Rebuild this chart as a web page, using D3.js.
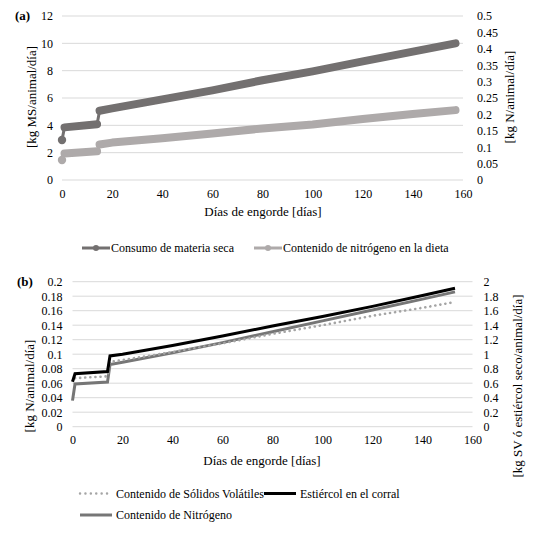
<!DOCTYPE html>
<html>
<head>
<meta charset="utf-8">
<script src="https://cdn.jsdelivr.net/npm/d3@7"></script>
<style>
  html, body { margin: 0; padding: 0; background: #fff; }
  svg { display: block; }
  svg text { font-family: "Liberation Serif", "Times New Roman", Tinos, "DejaVu Serif", serif !important; }
</style>
</head>
<body>
<svg id="chart" width="542" height="536"></svg>
<script>
// ---------- Data: panel (a) ----------
const daysA = [0, 1, 14, 15, 20, 40, 60, 80, 100, 120, 140, 157];
const consumoMS = [2.93, 3.85, 4.08, 5.07, 5.24, 5.9, 6.56, 7.3, 7.95, 8.68, 9.39, 10.0];           // kg MS/animal/día (left)
const nitrogenoDieta = [0.061, 0.081, 0.0875, 0.108, 0.114, 0.127, 0.142, 0.157, 0.169, 0.186, 0.201, 0.213]; // kg N/animal/día (right)
const xTicksA = [0, 20, 40, 60, 80, 100, 120, 140, 160];
const yLeftTicksA = [0, 2, 4, 6, 8, 10, 12];
const yRightTicksA = [0, 0.05, 0.1, 0.15, 0.2, 0.25, 0.3, 0.35, 0.4, 0.45, 0.5];

// ---------- Data: panel (b) ----------
const daysB = [0, 1, 14, 15, 20, 40, 60, 80, 100, 120, 140, 153];
const nitrogenoB = [0.036, 0.059, 0.0615, 0.0857, 0.089, 0.102, 0.116, 0.131, 0.146, 0.161, 0.176, 0.186]; // kg N (left)
const solidosVolatiles = [0.55, 0.67, 0.695, 0.895, 0.92, 1.03, 1.15, 1.28, 1.40, 1.53, 1.64, 1.72];     // kg SV (right)
const estiercol = [0.62, 0.73, 0.76, 0.976, 1.0, 1.12, 1.25, 1.39, 1.52, 1.66, 1.81, 1.91];              // kg estiércol (right)
const xTicksB = [0, 20, 40, 60, 80, 100, 120, 140, 160];
const yLeftTicksB = [0, 0.02, 0.04, 0.06, 0.08, 0.1, 0.12, 0.14, 0.16, 0.18, 0.2];
const yRightTicksB = [0, 0.2, 0.4, 0.6, 0.8, 1, 1.2, 1.4, 1.6, 1.8, 2];

const svg = d3.select("#chart");
const FS = 12;
const gridColor = "#d9d9d9";
const darkGray = "#737070";
const lightGray = "#aeaaaa";

function fmt(v) { return String(+v.toFixed(3)); }

// ================= Panel (a) =================
{
  const x = d3.scaleLinear().domain([0, 160]).range([62, 463]);
  const yL = d3.scaleLinear().domain([0, 12]).range([180, 16]);
  const yR = d3.scaleLinear().domain([0, 0.5]).range([180, 16]);
  const g = svg.append("g");

  g.append("g").selectAll("line").data(yLeftTicksA).join("line")
    .attr("x1", x(0)).attr("x2", x(160))
    .attr("y1", d => yL(d)).attr("y2", d => yL(d))
    .attr("stroke", gridColor).attr("stroke-width", 1);

  const axL = d3.axisLeft(yL).tickValues(yLeftTicksA).tickSize(0).tickPadding(9).tickFormat(fmt);
  const axR = d3.axisRight(yR).tickValues(yRightTicksA).tickSize(0).tickPadding(14).tickFormat(fmt);
  const axB = d3.axisBottom(x).tickValues(xTicksA).tickSize(0).tickPadding(9).tickFormat(fmt);
  [[axL, `translate(${x(0)},0)`], [axR, `translate(${x(160)},0)`], [axB, `translate(0,${yL(0)})`]].forEach(([ax, t]) => {
    const a = g.append("g").attr("transform", t).call(ax);
    a.attr("font-family", null);
    a.select(".domain").remove();
    a.selectAll("text").attr("font-size", FS).attr("fill", "#000");
  });

  const ptsMS = daysA.map((d, i) => [x(d), yL(consumoMS[i])]);
  const ptsN = daysA.map((d, i) => [x(d), yR(nitrogenoDieta[i])]);
  const line = d3.line();
  [[ptsMS, darkGray], [ptsN, lightGray]].forEach(([pts, c]) => {
    g.append("path").attr("d", line(pts)).attr("fill", "none").attr("stroke", c).attr("stroke-width", 3);
    // marker bands: before and after the step between day 14 and 15
    [pts.slice(1, 3), pts.slice(3)].forEach(seg => {
      g.append("path").attr("d", line(seg)).attr("fill", "none").attr("stroke", c)
        .attr("stroke-width", 8).attr("stroke-linecap", "round").attr("stroke-linejoin", "round");
    });
    g.append("circle").attr("cx", pts[0][0]).attr("cy", pts[0][1]).attr("r", 4.2).attr("fill", c);
  });

  g.append("text").attr("x", 15).attr("y", 20).attr("font-size", 13).attr("font-weight", "bold").text("(a)");
  g.append("text").attr("transform", "translate(36,97) rotate(-90)").attr("text-anchor", "middle")
    .attr("font-size", FS + 1).text("[kg MS/animal/día]");
  g.append("text").attr("transform", "translate(514,97) rotate(-90)").attr("text-anchor", "middle")
    .attr("font-size", FS + 1).text("[kg N/animal/día]");
  g.append("text").attr("x", 263).attr("y", 216).attr("text-anchor", "middle")
    .attr("font-size", FS + 1).text("Días de engorde [días]");

  const leg = [
    { x0: 82, label: "Consumo de materia seca", c: darkGray },
    { x0: 254, label: "Contenido de nitrógeno en la dieta", c: lightGray }
  ];
  leg.forEach(l => {
    g.append("line").attr("x1", l.x0).attr("x2", l.x0 + 28).attr("y1", 248).attr("y2", 248)
      .attr("stroke", l.c).attr("stroke-width", 3);
    g.append("circle").attr("cx", l.x0 + 14).attr("cy", 248).attr("r", 3).attr("fill", l.c);
    g.append("text").attr("x", l.x0 + 29).attr("y", 252).attr("font-size", FS).text(l.label);
  });
}

// ================= Panel (b) =================
{
  const x = d3.scaleLinear().domain([0, 160]).range([72.5, 472.5]);
  const yL = d3.scaleLinear().domain([0, 0.2]).range([426.7, 281.7]);
  const yR = d3.scaleLinear().domain([0, 2]).range([426.7, 281.7]);
  const g = svg.append("g");

  g.append("g").selectAll("line").data(yLeftTicksB).join("line")
    .attr("x1", x(0)).attr("x2", x(160))
    .attr("y1", d => yL(d)).attr("y2", d => yL(d))
    .attr("stroke", gridColor).attr("stroke-width", 1);

  const axL = d3.axisLeft(yL).tickValues(yLeftTicksB).tickSize(0).tickPadding(10).tickFormat(fmt);
  const axR = d3.axisRight(yR).tickValues(yRightTicksB).tickSize(0).tickPadding(11).tickFormat(fmt);
  const axB = d3.axisBottom(x).tickValues(xTicksB).tickSize(0).tickPadding(9).tickFormat(fmt);
  [[axL, `translate(${x(0)},0)`], [axR, `translate(${x(160)},0)`], [axB, `translate(0,${yL(0)})`]].forEach(([ax, t]) => {
    const a = g.append("g").attr("transform", t).call(ax);
    a.attr("font-family", null);
    a.select(".domain").remove();
    a.selectAll("text").attr("font-size", FS).attr("fill", "#000");
  });

  const line = d3.line();
  const ptsN = daysB.map((d, i) => [x(d), yL(nitrogenoB[i])]);
  const ptsSV = daysB.map((d, i) => [x(d), yR(solidosVolatiles[i])]);
  const ptsE = daysB.map((d, i) => [x(d), yR(estiercol[i])]);

  g.append("path").attr("d", line(ptsN)).attr("fill", "none").attr("stroke", "#767676").attr("stroke-width", 3);
  g.append("path").attr("d", line(ptsSV.slice(1))).attr("fill", "none").attr("stroke", "#a5a5a5")
    .attr("stroke-width", 2.6).attr("stroke-dasharray", "0.1 5").attr("stroke-linecap", "round");
  g.append("path").attr("d", line(ptsE)).attr("fill", "none").attr("stroke", "#000").attr("stroke-width", 3);

  g.append("text").attr("x", 17).attr("y", 286).attr("font-size", 13).attr("font-weight", "bold").text("(b)");
  g.append("text").attr("transform", "translate(34,386) rotate(-90)").attr("text-anchor", "middle")
    .attr("font-size", FS + 1).text("[kg N/animal/día]");
  g.append("text").attr("transform", "translate(522,386) rotate(-90)").attr("text-anchor", "middle")
    .attr("font-size", FS + 1).text("[kg SV ó estiércol seco/animal/día]");
  g.append("text").attr("x", 262).attr("y", 465).attr("text-anchor", "middle")
    .attr("font-size", FS + 1).text("Días de engorde [días]");

  const leg = [
    { x0: 79, y: 493.5, label: "Contenido de Sólidos Volátiles", c: "#a5a5a5", dash: true },
    { x0: 263, y: 493.5, label: "Estiércol en el corral", c: "#000" },
    { x0: 79, y: 515, label: "Contenido de Nitrógeno", c: "#767676" }
  ];
  leg.forEach(l => {
    const ln = g.append("line").attr("x1", l.x0 + 1).attr("x2", l.x0 + 33).attr("y1", l.y).attr("y2", l.y)
      .attr("stroke", l.c).attr("stroke-width", l.dash ? 2.4 : 3);
    if (l.dash) ln.attr("stroke-dasharray", "0.1 5.3").attr("stroke-linecap", "round");
    g.append("text").attr("x", l.x0 + 37).attr("y", l.y + 4).attr("font-size", FS).text(l.label);
  });
}
</script>
</body>
</html>
